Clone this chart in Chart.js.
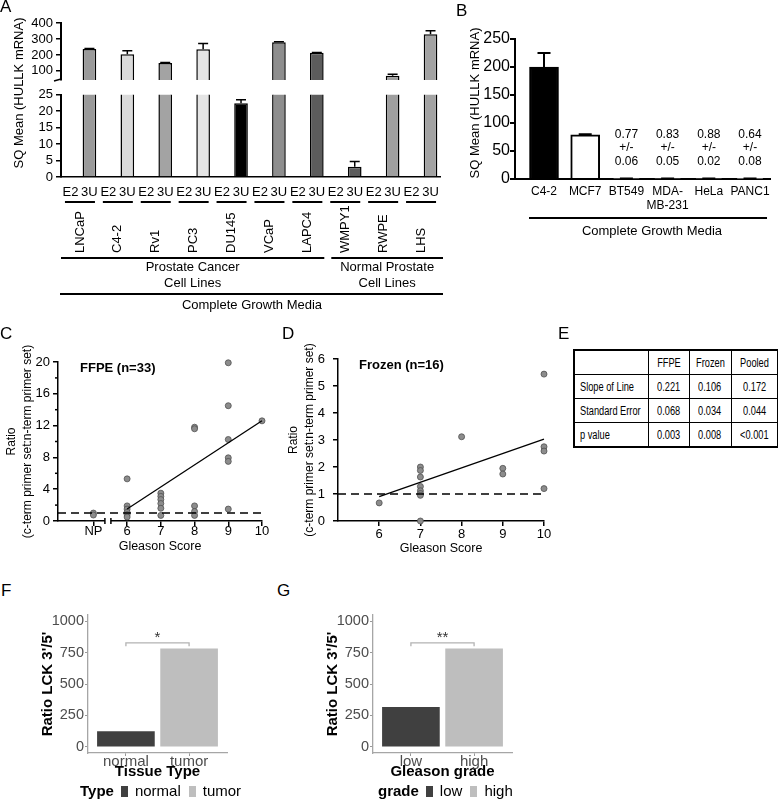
<!DOCTYPE html>
<html><head><meta charset="utf-8">
<script src="https://cdn.jsdelivr.net/npm/chart.js@4.4.1/dist/chart.umd.min.js"></script>
<style>
html,body{margin:0;padding:0;background:#fff;}
#root{position:relative;width:778px;height:799px;overflow:hidden;font-family:'Liberation Sans',Arial,sans-serif;color:#000;}
canvas{position:absolute;}
.plab{position:absolute;font-size:17px;line-height:17px;}
.leg{position:absolute;font-size:15px;line-height:18px;white-space:nowrap;}
.leg b{margin-right:7px;}
.leg .sw{display:inline-block;width:7px;height:11px;margin-right:7px;vertical-align:-1px;}
.leg .lt{margin-right:8px;}
.etab{position:absolute;left:573px;top:349px;border-collapse:collapse;border:2px solid #000;table-layout:fixed;width:204px;
 font-family:'Liberation Sans Narrow','Arial Narrow','Liberation Sans',sans-serif;font-size:12.5px;color:#000;}
.etab td{border:1.5px solid #000;height:23px;padding:0;text-align:center;white-space:nowrap;overflow:visible;}
.etab td:first-child{text-align:left;padding-left:5px;}
.etab span{display:inline-block;}
</style></head>
<body><div id="root"></div>
<script>
// ---------------- DATA ----------------
// Panel A
const aCellLines = ['LNCaP','C4-2','Rv1','PC3','DU145','VCaP','LAPC4','WMPY1','RWPE','LHS'];
const aPrimers = ['E2','3U'];
const aE2Values = [0, 0, 0, 0.3, 0, 0, 0, 0, 0.25, 0];
const aE2Errors = [0, 0, 0, 0, 0, 0, 0, 0, 0, 0];
const a3UValues = [237, 204, 150, 235, 22.4, 279, 213, 3.1, 69, 330];
const a3UErrors = [4, 22, 3, 37, 1.1, 3, 3, 1.6, 10, 22];
const aGroupNames = [['Prostate Cancer','Cell Lines'], ['Normal Prostate','Cell Lines']];
const aGroupSizes = [7, 3];
const aMedia = 'Complete Growth Media';
const aTopTicks = [100, 200, 300, 400];
const aBottomTicks = [0, 5, 10, 15, 20, 25];
const aYTitle = 'SQ Mean (HULLK mRNA)';

// Panel B
const bCellLines = [['C4-2'], ['MCF7'], ['BT549'], ['MDA-', 'MB-231'], ['HeLa'], ['PANC1']];
const bValues = [200, 79, 0.77, 0.83, 0.88, 0.64];
const bErrors = [25, 1, 0.06, 0.05, 0.02, 0.08];
const bTicks = [0, 50, 100, 150, 200, 250];
const bMedia = 'Complete Growth Media';

// Panel C (FFPE)
const cTitle = 'FFPE (n=33)';
const cXTicks = [5, 6, 7, 8, 9, 10];
const cXLabels = ['NP', '6', '7', '8', '9', '10'];
const cGleason = [5, 5, 6, 6, 6, 6, 6, 6, 7, 7, 7, 7, 7, 7, 8, 8, 8, 8, 8, 9, 9, 9, 9, 9, 9, 10];
const cRatio = [1.0, 0.75, 5.3, 1.9, 1.5, 1.1, 0.8, 0.5, 3.5, 3.1, 2.7, 2.2, 1.6, 0.7, 11.8, 11.6, 1.9, 1.2, 0.7, 19.9, 14.5, 10.25, 7.95, 7.5, 1.5, 12.6];
const cFitX = [6, 10];
const cFitY = [1.5, 12.6];
const cYTicks = [0, 4, 8, 12, 16, 20];
const cYMinor = [2, 6, 10, 14, 18];

// Panel D (Frozen)
const dTitle = 'Frozen (n=16)';
const dXTicks = [6, 7, 8, 9, 10];
const dGleason = [6, 7, 7, 7, 7, 7, 7, 7, 7, 8, 9, 9, 10, 10, 10, 10];
const dRatio = [0.67, 2.0, 1.87, 1.63, 1.28, 1.12, 1.02, 0.95, 0, 3.12, 1.95, 1.74, 5.44, 2.75, 2.59, 1.2];
const dFitX = [6, 10];
const dFitY = [0.9, 3.03];
const dYTicks = [0, 1, 2, 3, 4, 5, 6];

const cutoffRatio = 1;
const ratioTitle = ['Ratio', '(c-term primer set:n-term primer set)'];
const xScoreTitle = 'Gleason Score';

// Panel E (table)
const eColumns = ['', 'FFPE', 'Frozen', 'Pooled'];
const eRows = ['Slope of Line', 'Standard Error', 'p value'];
const eSlope = ['0.221', '0.106', '0.172'];
const eStdErr = ['0.068', '0.034', '0.044'];
const ePValue = ['0.003', '0.008', '<0.001'];

// Panel F
const fTypes = ['normal', 'tumor'];
const fRatio = [120, 780];
const fSignif = '*';
// Panel G
const gGrades = ['low', 'high'];
const gRatio = [315, 780];
const gSignif = '**';
const fgTicks = [0, 250, 500, 750, 1000];

// ---------------- STYLE ----------------
const aColors = ['#9a9a9a','#dadada','#a3a3a3','#e4e4e4','#000000','#8e8e8e','#5c5c5c','#5c5c5c','#9f9f9f','#a3a3a3'];
const bColors = ['#000000','#ffffff','#888888','#888888','#888888','#888888'];
const fgColors = ['#404040', '#bebebe'];
const FONT = "'Liberation Sans', Arial, sans-serif";

Chart.defaults.font.family = FONT;
Chart.defaults.color = '#000';
Chart.defaults.animation = false;
Chart.defaults.responsive = false;
Chart.defaults.maintainAspectRatio = false;
Chart.defaults.events = [];
Chart.defaults.plugins.legend.display = false;
Chart.defaults.plugins.tooltip.enabled = false;

const root = document.getElementById('root');
function mkCanvas(left, top, w, h) {
  const c = document.createElement('canvas');
  c.width = w; c.height = h;
  c.style.left = left + 'px'; c.style.top = top + 'px';
  c.style.width = w + 'px'; c.style.height = h + 'px';
  root.appendChild(c);
  return c;
}
function setTicks(list) { return s => { s.ticks = list.map(v => ({ value: v })); }; }
function fixW(w) { return s => { s.width = w; }; }
function fixH(h) { return s => { s.height = h; }; }
const plain = v => String(v);
function letter(t, left, top) {
  const d = document.createElement('div'); d.className = 'plab';
  d.style.left = left + 'px'; d.style.top = top + 'px'; d.textContent = t; root.appendChild(d);
}
function rotatedText(ctx, text, x, y, size) {
  ctx.save(); ctx.translate(x, y); ctx.rotate(-Math.PI / 2);
  ctx.font = size + 'px ' + FONT; ctx.fillStyle = '#000'; ctx.textAlign = 'center'; ctx.textBaseline = 'middle';
  ctx.fillText(text, 0, 0); ctx.restore();
}

// error bars (upward, with cap)
const errorBarPlugin = {
  id: 'errbars',
  afterDatasetsDraw(chart, args, o) {
    if (!o || !o.errors) return;
    const meta = chart.getDatasetMeta(0), ys = chart.scales.y, ca = chart.chartArea, ctx = chart.ctx;
    const data = chart.data.datasets[0].data;
    ctx.save();
    ctx.beginPath(); ctx.rect(ca.left, ca.top - (o.topAllow || 0), ca.right - ca.left, ca.bottom - ca.top + (o.topAllow || 0)); ctx.clip();
    ctx.strokeStyle = '#000'; ctx.lineWidth = o.lineWidth || 1.5;
    meta.data.forEach((bar, i) => {
      const e = o.errors[i]; if (!e) return;
      const v = typeof data[i] === 'object' ? data[i].y : data[i];
      const y0 = ys.getPixelForValue(v), y1 = ys.getPixelForValue(v + e), hw = o.cap / 2;
      ctx.beginPath(); ctx.moveTo(bar.x, y0); ctx.lineTo(bar.x, y1);
      ctx.moveTo(bar.x - hw, y1); ctx.lineTo(bar.x + hw, y1); ctx.stroke();
    });
    ctx.restore();
  }
};

// ---------------- PANEL A ----------------
const slotLabels = [], slotValues = [], slotErrors = [], slotColors = [];
aCellLines.forEach((c, i) => {
  slotLabels.push(aPrimers[0], aPrimers[1]);
  slotValues.push(aE2Values[i], a3UValues[i]);
  slotErrors.push(aE2Errors[i], a3UErrors[i]);
  slotColors.push(aColors[i], aColors[i]);
});
function aDataset() {
  return { labels: slotLabels, datasets: [{ data: slotValues, backgroundColor: slotColors, borderColor: '#000',
    borderWidth: 1.5, borderSkipped: 'start', barPercentage: 0.72, categoryPercentage: 1, clip: 0 }] };
}
const yAxisA = (min, max, ticks) => ({
  min, max, afterFit: fixW(61), afterBuildTicks: setTicks(ticks),
  ticks: { font: { size: 13 }, padding: 3, autoSkip: false, callback: plain },
  grid: { drawOnChartArea: false, tickLength: 5, color: '#000', lineWidth: 1.5 },
  border: { color: '#000', width: 2 }
});
const aTopDecor = {
  id: 'aTopDecor',
  afterDraw(chart) {
    const ctx = chart.ctx, ca = chart.chartArea;
    ctx.save(); ctx.strokeStyle = '#000'; ctx.lineWidth = 1.5;
    ctx.beginPath(); ctx.moveTo(ca.left - 7, ca.bottom + 1); ctx.lineTo(ca.left, ca.bottom - 1); ctx.stroke();
    ctx.restore();
    rotatedText(ctx, aYTitle, 19, 93, 13);
  }
};
new Chart(mkCanvas(0, 0, 450, 180), {
  type: 'bar', data: aDataset(),
  options: {
    layout: { padding: { top: 23, right: 10, bottom: 100, left: 0 } },
    scales: { x: { display: false, offset: true }, y: yAxisA(43, 400, aTopTicks) },
    plugins: { errbars: { errors: slotErrors, cap: 10, lineWidth: 1.5, topAllow: 10 } }
  },
  plugins: [errorBarPlugin, aTopDecor]
});

const aAnnot = {
  id: 'aAnnot',
  afterDraw(chart) {
    const ctx = chart.ctx, x = chart.scales.x, ca = chart.chartArea, b = ca.bottom;
    const slotW = x.getPixelForValue(1) - x.getPixelForValue(0);
    ctx.save(); ctx.strokeStyle = '#000'; ctx.fillStyle = '#000';
    ctx.font = '13px ' + FONT;
    aCellLines.forEach((name, i) => {
      const cx = (x.getPixelForValue(2 * i) + x.getPixelForValue(2 * i + 1)) / 2;
      ctx.lineWidth = 2;
      ctx.beginPath(); ctx.moveTo(cx - 15, b + 25); ctx.lineTo(cx + 15, b + 25); ctx.stroke();
      ctx.save(); ctx.translate(cx, b + 76); ctx.rotate(-Math.PI / 2);
      ctx.textAlign = 'left'; ctx.textBaseline = 'middle'; ctx.fillText(name, 0, 0); ctx.restore();
    });
    let start = 0, lastR = 0;
    aGroupSizes.forEach((n, g) => {
      let l = x.getPixelForValue(2 * start) - slotW / 2, r = x.getPixelForValue(2 * (start + n) - 1) + slotW / 2;
      if (g === 0) { r -= 2; } else { l += 5; r += 3; }
      ctx.lineWidth = 2;
      ctx.beginPath(); ctx.moveTo(l, b + 81); ctx.lineTo(r, b + 81); ctx.stroke();
      ctx.textAlign = 'center'; ctx.textBaseline = 'middle';
      aGroupNames[g].forEach((t, k) => ctx.fillText(t, (l + r) / 2, b + 90 + 16 * k));
      start += n; lastR = r;
    });
    ctx.beginPath(); ctx.moveTo(ca.left - 1, b + 117); ctx.lineTo(lastR, b + 117); ctx.stroke();
    ctx.fillText(aMedia, (ca.left + lastR) / 2, b + 128);
    ctx.restore();
  }
};
new Chart(mkCanvas(0, 84, 450, 232), {
  type: 'bar', data: aDataset(),
  options: {
    layout: { padding: { top: 9, right: 10, bottom: 0, left: 0 } },
    scales: {
      x: { offset: true, afterFit: fixH(139), grid: { display: false, drawTicks: false },
           border: { color: '#000', width: 1.5 }, ticks: { font: { size: 13 }, padding: 8, autoSkip: false, maxRotation: 0 } },
      y: yAxisA(0, 25, aBottomTicks)
    },
    plugins: { errbars: { errors: slotErrors, cap: 10, lineWidth: 1.5 } }
  },
  plugins: [errorBarPlugin, aAnnot]
});

// ---------------- PANEL B ----------------
const bAnnot = {
  id: 'bAnnot',
  afterDraw(chart) {
    const ctx = chart.ctx, x = chart.scales.x, y = chart.scales.y, ca = chart.chartArea;
    ctx.save(); ctx.fillStyle = '#000'; ctx.strokeStyle = '#000';
    ctx.font = '12px ' + FONT; ctx.textAlign = 'center'; ctx.textBaseline = 'middle';
    const y0 = y.getPixelForValue(0);
    bValues.forEach((v, i) => {
      if (v >= 1) return;
      const px = x.getPixelForValue(i);
      ctx.fillText(v.toFixed(2), px, y0 - 44);
      ctx.fillText('+/-', px, y0 - 31);
      ctx.fillText(bErrors[i].toFixed(2), px, y0 - 17);
    });
    const l = x.getPixelForValue(0) - 15, r = x.getPixelForValue(bValues.length - 1) + 17;
    ctx.lineWidth = 2;
    ctx.beginPath(); ctx.moveTo(l, ca.bottom + 39); ctx.lineTo(r, ca.bottom + 39); ctx.stroke();
    ctx.font = '13px ' + FONT;
    ctx.fillText(bMedia, (l + r) / 2 + 4, ca.bottom + 52);
    ctx.restore();
    rotatedText(ctx, aYTitle, 15.5, ca.top + 64, 13);
  }
};
new Chart(mkCanvas(460, 0, 318, 245), {
  type: 'bar',
  data: { datasets: [{ data: bValues.map((v, i) => ({ x: i, y: v })), backgroundColor: bColors, borderColor: '#000',
    borderWidth: 2, borderSkipped: 'start', barThickness: 29, clip: false }] },
  options: {
    layout: { padding: { top: 39, right: 8, bottom: 0, left: 6 } },
    scales: {
      x: { type: 'linear', offset: false, min: -0.704, max: 5.485, afterFit: fixH(66), afterBuildTicks: setTicks(bCellLines.map((_, i) => i)),
           ticks: { callback: v => bCellLines[v], font: { size: 12 }, padding: 5, autoSkip: false, maxRotation: 0 },
           grid: { display: false, drawTicks: false, offset: false }, border: { color: '#000', width: 2 } },
      y: { min: 0, max: 250, afterFit: fixW(49), afterBuildTicks: setTicks(bTicks),
           ticks: { font: { size: 16 }, padding: 0, autoSkip: false, callback: plain },
           grid: { drawOnChartArea: false, tickLength: 5, color: '#000', lineWidth: 2 },
           border: { color: '#000', width: 2 } }
    },
    plugins: { errbars: { errors: bErrors, cap: 13, lineWidth: 2, topAllow: 10 } }
  },
  plugins: [errorBarPlugin, bAnnot]
});

// ---------------- PANELS C & D ----------------
const scatterDecor = {
  id: 'scDecor',
  afterDraw(chart, args, o) {
    const ctx = chart.ctx, x = chart.scales.x, y = chart.scales.y, ca = chart.chartArea;
    ctx.save(); ctx.fillStyle = '#000'; ctx.strokeStyle = '#000'; ctx.lineWidth = 1.5;
    ctx.font = 'bold 13px ' + FONT; ctx.textAlign = 'left'; ctx.textBaseline = 'middle';
    ctx.fillText(o.title, ca.left + o.titleDx, ca.top + 6);
    (o.minor || []).forEach(v => {
      const py = y.getPixelForValue(v);
      ctx.beginPath(); ctx.moveTo(ca.left - 3, py); ctx.lineTo(ca.left, py); ctx.stroke();
    });
    if (o.breakAt !== undefined) {
      const bx = x.getPixelForValue(o.breakAt);
      ctx.fillStyle = '#fff'; ctx.fillRect(bx - 3, ca.bottom - 2, 6, 4);
      ctx.beginPath();
      ctx.moveTo(bx - 3, ca.bottom - 3); ctx.lineTo(bx - 3, ca.bottom + 3);
      ctx.moveTo(bx + 3, ca.bottom - 3); ctx.lineTo(bx + 3, ca.bottom + 3);
      ctx.stroke();
    }
    ctx.restore();
  }
};
function scatterChart(canvas, cfg) {
  return new Chart(canvas, {
    type: 'scatter',
    data: { datasets: [
      { type: 'line', data: [{ x: cfg.xmin, y: cutoffRatio }, { x: cfg.xmax, y: cutoffRatio }], borderColor: '#000',
        borderWidth: 1.5, borderDash: [8, 5], pointRadius: 0, clip: false, order: 2 },
      { type: 'line', data: cfg.fitX.map((v, i) => ({ x: v, y: cfg.fitY[i] })), borderColor: '#000', borderWidth: 1.3,
        pointRadius: 0, clip: false, order: 1 },
      { data: cfg.xs.map((v, i) => ({ x: v, y: cfg.ys[i] })), pointRadius: 3, backgroundColor: '#8c8c8c',
        borderColor: '#505050', borderWidth: 0.8, clip: false, order: 3 }
    ] },
    options: {
      layout: { padding: cfg.padding },
      scales: {
        x: { type: 'linear', min: cfg.xmin, max: cfg.xmax, afterFit: fixH(cfg.xh), afterBuildTicks: setTicks(cfg.xTicks),
             ticks: { callback: cfg.xLabel, font: { size: 13, lineHeight: 1 }, padding: cfg.xPad, autoSkip: false, maxRotation: 0 },
             grid: { drawOnChartArea: false, tickLength: 5, color: '#000', lineWidth: 1.5 },
             border: { color: '#000', width: 1.5 },
             title: { display: true, text: xScoreTitle, font: { size: 12.5 }, padding: { top: 0, bottom: cfg.xTitlePad } } },
        y: { min: cfg.ymin, max: cfg.ymax, afterFit: fixW(cfg.yw), afterBuildTicks: setTicks(cfg.yTicks),
             ticks: { font: { size: 13 }, padding: cfg.yPad, autoSkip: false, callback: plain },
             grid: { drawOnChartArea: false, tickLength: 5, color: '#000', lineWidth: 1.5 },
             border: { color: '#000', width: 1.5 },
             title: { display: true, text: ratioTitle, font: { size: 12, lineHeight: 16 / 12 }, padding: { top: 4, bottom: 0 } } }
      },
      plugins: { scDecor: cfg.decor }
    },
    plugins: [scatterDecor]
  });
}
scatterChart(mkCanvas(0, 340, 280, 220), {
  xmin: 3.95, xmax: 10, ymin: 0, ymax: 20, xs: cGleason, ys: cRatio, fitX: cFitX, fitY: cFitY,
  padding: { top: 22, right: 18, bottom: 0, left: 0 }, xh: 39, yw: 58, xPad: -1, yPad: 3, xTitlePad: 5.5,
  xTicks: cXTicks, xLabel: v => cXLabels[cXTicks.indexOf(v)], yTicks: cYTicks,
  decor: { title: cTitle, titleDx: 22, minor: cYMinor, breakAt: 5.43 }
});
scatterChart(mkCanvas(282, 340, 278, 220), {
  xmin: 5, xmax: 10, ymin: 0, ymax: 6, xs: dGleason, ys: dRatio, fitX: dFitX, fitY: dFitY,
  padding: { top: 19, right: 16, bottom: 0, left: 0 }, xh: 39, yw: 56, xPad: 2, yPad: 8, xTitlePad: 4,
  xTicks: dXTicks, xLabel: v => String(v), yTicks: dYTicks,
  decor: { title: dTitle, titleDx: 21, minor: [] }
});

// ---------------- PANEL E (table) ----------------
(function () {
  const t = document.createElement('table'); t.className = 'etab';
  const cg = document.createElement('colgroup');
  [74, 41, 42, 47].forEach(w => { const c = document.createElement('col'); c.style.width = w + 'px'; cg.appendChild(c); });
  t.appendChild(cg);
  const eValues = [eSlope, eStdErr, ePValue];
  const rows = [eColumns].concat(eRows.map((r, i) => [r].concat(eValues[i])));
  rows.forEach(r => {
    const tr = document.createElement('tr');
    r.forEach(v => { const td = document.createElement('td'); const s = document.createElement('span'); s.textContent = v; td.appendChild(s); tr.appendChild(td); });
    t.appendChild(tr);
  });
  root.appendChild(t);
  const c = document.createElement('canvas').getContext('2d');
  c.font = '40px monospace'; const a = c.measureText('Standard Error mm').width;
  c.font = '40px "Liberation Sans Narrow", monospace'; const n = c.measureText('Standard Error mm').width;
  let sx = 0.9;
  if (a === n) { t.style.fontFamily = FONT; sx = 0.74; }
  t.querySelectorAll('span').forEach(s => { s.style.transform = 'scaleX(' + sx + ')'; });
  t.querySelectorAll('td:first-child span').forEach(s => { s.style.transformOrigin = 'left center'; });
})();

// ---------------- PANELS F & G ----------------
const sigPlugin = {
  id: 'sig',
  afterDatasetsDraw(chart, args, o) {
    const ctx = chart.ctx, x = chart.scales.x, y = chart.scales.y;
    const top = y.getPixelForValue(Math.max(...o.values)) - 6;
    const x1 = x.getPixelForValue(1), x2 = x.getPixelForValue(2);
    ctx.save(); ctx.strokeStyle = '#b3b3b3'; ctx.lineWidth = 1.3;
    ctx.beginPath(); ctx.moveTo(x1, top + 3.5); ctx.lineTo(x1, top); ctx.lineTo(x2, top); ctx.lineTo(x2, top + 3.5); ctx.stroke();
    ctx.fillStyle = '#333'; ctx.font = '15px ' + FONT; ctx.textAlign = 'center'; ctx.textBaseline = 'alphabetic';
    ctx.fillText(o.label, (x1 + x2) / 2, top - 1);
    ctx.restore();
  }
};
function ggBar(left, cats, vals, sig, xTitle) {
  return new Chart(mkCanvas(left, 600, 250, 185), {
    type: 'bar',
    data: { datasets: [{ data: vals.map((v, i) => ({ x: i + 1, y: v })), backgroundColor: fgColors, borderWidth: 0, barThickness: 57 }] },
    options: {
      layout: { padding: { top: 15, right: 23, bottom: 0, left: 0 } },
      scales: {
        x: { type: 'linear', offset: false, min: 0.4, max: 2.6, afterFit: fixH(32), afterBuildTicks: setTicks(cats.map((_, i) => i + 1)),
             ticks: { callback: v => cats[v - 1], font: { size: 15, lineHeight: 1 }, color: '#4d4d4d', padding: -1.5, autoSkip: false, maxRotation: 0 },
             grid: { drawOnChartArea: false, tickLength: 3, color: '#999', lineWidth: 1, offset: false },
             border: { color: '#a6a6a6', width: 1.3 },
             title: { display: true, text: xTitle, font: { size: 15, weight: 'bold' }, color: '#000', padding: { top: 0, bottom: 4 } } },
        y: { min: -50, max: 1050, afterFit: fixW(88), afterBuildTicks: setTicks(fgTicks),
             ticks: { font: { size: 14.5 }, color: '#4d4d4d', padding: 1, autoSkip: false, callback: plain },
             grid: { drawOnChartArea: false, tickLength: 3, color: '#999', lineWidth: 1 },
             border: { color: '#a6a6a6', width: 1.3 },
             title: { display: true, text: "Ratio LCK 3'/5'", font: { size: 15, weight: 'bold' }, color: '#000', padding: { top: 39, bottom: 0 } } }
      },
      plugins: { sig: { values: vals, label: sig } }
    },
    plugins: [sigPlugin]
  });
}
ggBar(0, fTypes, fRatio, fSignif, 'Tissue Type');
ggBar(285, gGrades, gRatio, gSignif, 'Gleason grade');

function legend(left, top, title, items) {
  const d = document.createElement('div'); d.className = 'leg';
  d.style.left = left + 'px'; d.style.top = top + 'px';
  const b = document.createElement('b'); b.textContent = title; d.appendChild(b);
  items.forEach((it, i) => {
    const sw = document.createElement('span'); sw.className = 'sw'; sw.style.background = fgColors[i]; d.appendChild(sw);
    const lt = document.createElement('span'); lt.className = 'lt'; lt.textContent = it; d.appendChild(lt);
  });
  root.appendChild(d);
}
legend(80, 782, 'Type', fTypes);
legend(378, 782, 'grade', gGrades);

// panel letters
letter('A', 0, -2); letter('B', 456, 2); letter('C', 0, 325); letter('D', 282, 325);
letter('E', 558, 325); letter('F', 1, 582); letter('G', 277, 582);
</script>
</body></html>
